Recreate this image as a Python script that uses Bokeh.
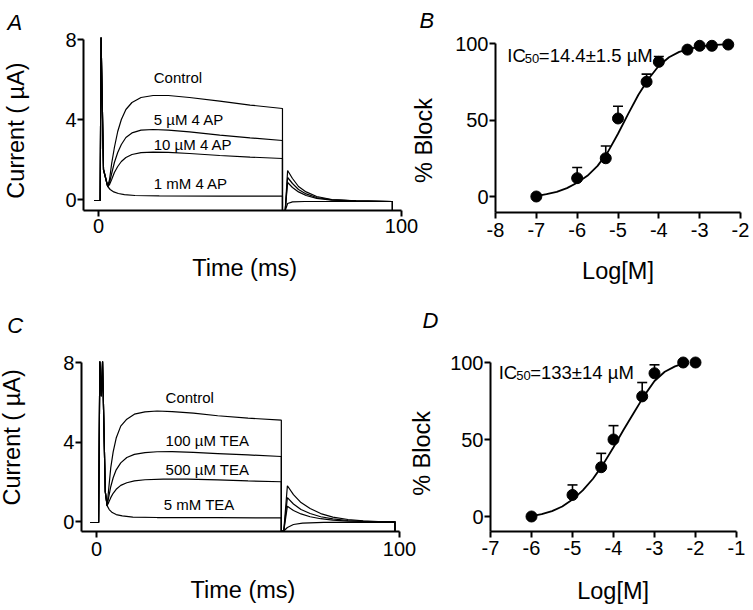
import math
from bokeh.plotting import figure
from bokeh.models import (Range1d, FixedTicker, Label, Whisker, TeeHead,
                          ColumnDataSource, LinearAxis)
from bokeh.embed import file_html
from bokeh.resources import INLINE

FONT = "Liberation Sans"

# ---------------- data: panel A (4-AP current traces) ----------------
a_labels = ["Control", "5 \u00b5M 4 AP", "10 \u00b5M 4 AP", "1 mM 4 AP"]
a_pre_t = [-1.5, 0.5, 0.8, 1.6, 3.0]
a_pre_i = [-0.05, -0.05, 8.1, 1.5, 0.65]
a_ctrl_t = [3.6, 4.3, 5.2, 6.3, 7.5, 9, 11, 14, 18, 23, 30, 40, 50, 60.7, 60.7, 61.6, 62.4, 64, 66, 68.5, 72, 77, 85, 97, 97]
a_ctrl_i = [1.0, 1.8, 2.6, 3.4, 4.0, 4.5, 4.85, 5.1, 5.2, 5.2, 5.1, 4.92, 4.72, 4.55, -0.55, -0.55, 1.45, 1.05, 0.65, 0.38, 0.15, 0.0, -0.07, -0.1, -0.55]
a_5um_t = [3.6, 4.3, 5.2, 6.3, 7.5, 9, 11, 14, 18, 23, 30, 40, 50, 60.7, 60.7, 61.6, 62.4, 64, 66, 68.5, 72, 77, 85, 97, 97]
a_5um_i = [0.85, 1.3, 1.85, 2.35, 2.75, 3.1, 3.33, 3.47, 3.5, 3.47, 3.38, 3.22, 3.08, 2.95, -0.55, -0.55, 1.1, 0.8, 0.5, 0.28, 0.1, -0.02, -0.07, -0.1, -0.55]
a_10um_t = [3.6, 4.3, 5.2, 6.3, 7.5, 9, 11, 14, 18, 23, 30, 40, 50, 60.7, 60.7, 61.6, 62.4, 64, 66, 68.5, 72, 77, 85, 97, 97]
a_10um_i = [0.75, 1.0, 1.35, 1.65, 1.9, 2.1, 2.25, 2.34, 2.37, 2.36, 2.3, 2.2, 2.12, 2.05, -0.55, -0.55, 0.85, 0.6, 0.38, 0.2, 0.06, -0.03, -0.07, -0.1, -0.55]
a_1mm_t = [3.8, 5, 6.5, 8.5, 12, 20, 40, 60.7, 60.7, 61.6, 62.4, 64, 68, 97, 97]
a_1mm_i = [0.5, 0.38, 0.3, 0.24, 0.2, 0.18, 0.17, 0.17, -0.55, -0.55, -0.2, -0.12, -0.1, -0.1, -0.55]
a_xticks = [0, 100]
a_yticks = [0, 4, 8]

# ---------------- data: panel B (4-AP dose response) ----------------
b_logc = [-7, -6, -5.3, -5, -4.3, -4, -3.3, -3, -2.7, -2.3]
b_block = [0, 12, 25, 51, 75, 88, 96, 98.5, 98.5, 99.3]
b_err = [0, 7, 8, 8, 5, 3.5, 0, 0, 0, 0]
b_fit_x = [-7, -6.75, -6.5, -6.25, -6, -5.75, -5.5, -5.25, -5, -4.75, -4.5, -4.25, -4, -3.75, -3.5, -3.25, -3, -2.75, -2.5, -2.3]
b_fit_y = [0.3, 1.5, 3, 5.5, 9, 13.5, 20, 29, 41, 54, 66.5, 77, 85.5, 91, 94.5, 96.5, 98, 98.8, 99.3, 99.5]
b_xticks = [-8, -7, -6, -5, -4, -3, -2]
b_yticks = [0, 50, 100]
b_ic50 = "=14.4\u00b11.5 \u00b5M"

# ---------------- data: panel C (TEA current traces) ----------------
c_labels = ["Control", "100 \u00b5M TEA", "500 \u00b5M TEA", "5 mM TEA"]
c_pre_t = [-2, 0.7, 1.1, 1.6, 2.0, 2.9, 3.5]
c_pre_i = [-0.05, -0.05, 8.05, 6.3, 8.05, 1.5, 0.8]
c_ctrl_t = [4.0, 4.7, 5.5, 6.5, 8, 10, 12.5, 16, 20, 25, 32, 40, 50, 61, 61, 61.8, 63, 65, 67.5, 70.5, 74, 78, 83, 88, 93, 98.5, 98.5]
c_ctrl_i = [1.6, 2.7, 3.5, 4.2, 4.8, 5.15, 5.4, 5.52, 5.56, 5.53, 5.45, 5.32, 5.2, 5.1, -0.48, -0.48, 1.8, 1.35, 0.95, 0.65, 0.4, 0.22, 0.1, 0.03, 0.0, 0.0, -0.48]
c_100um_t = [4.0, 4.7, 5.5, 6.5, 8, 10, 12.5, 16, 20, 25, 32, 40, 50, 61, 61, 61.8, 63, 65, 67.5, 70.5, 74, 78, 83, 88, 93, 98.5, 98.5]
c_100um_i = [1.2, 1.75, 2.2, 2.6, 2.95, 3.22, 3.38, 3.47, 3.51, 3.52, 3.48, 3.42, 3.35, 3.27, -0.48, -0.48, 1.2, 0.88, 0.6, 0.4, 0.24, 0.13, 0.05, 0.01, 0.0, 0.0, -0.48]
c_500um_t = [4.0, 4.7, 5.5, 6.5, 8, 10, 12.5, 16, 22, 30, 40, 50, 61, 61, 61.8, 63, 65, 67.5, 70.5, 74, 78, 83, 90, 98.5, 98.5]
c_500um_i = [0.95, 1.2, 1.42, 1.62, 1.82, 1.95, 2.04, 2.1, 2.13, 2.13, 2.09, 2.04, 2.0, -0.48, -0.48, 0.77, 0.55, 0.38, 0.24, 0.14, 0.07, 0.02, 0.0, 0.0, -0.48]
c_5mm_t = [4.2, 5.2, 6.5, 8.5, 12, 20, 40, 61, 61, 61.8, 63, 65, 68, 75, 98.5, 98.5]
c_5mm_i = [0.6, 0.45, 0.35, 0.28, 0.22, 0.2, 0.19, 0.18, -0.48, -0.48, -0.3, -0.15, -0.08, -0.04, -0.03, -0.48]
c_xticks = [0, 100]
c_yticks = [0, 4, 8]

# ---------------- data: panel D (TEA dose response) ----------------
d_logc = [-6, -5, -4.3, -4, -3.3, -3, -2.3, -2]
d_block = [0, 14, 32, 50, 78, 93, 100, 100]
d_err = [0, 6.5, 9, 9, 9, 5.5, 0, 0]
d_fit_x = [-6, -5.75, -5.5, -5.25, -5, -4.75, -4.5, -4.25, -4, -3.75, -3.5, -3.25, -3, -2.75, -2.5, -2.3]
d_fit_y = [0.3, 1.5, 3.5, 6.5, 11, 17, 24.5, 34, 45, 56.5, 67.5, 78.5, 88, 94, 97.5, 99.3]
d_xticks = [-7, -6, -5, -4, -3, -2, -1]
d_yticks = [0, 50, 100]
d_ic50 = "=133\u00b114 \u00b5M"

W, H = 752, 608


def canvas_range(v0, p0, v1, p1, lo_px, hi_px):
    """Data range covering canvas pixels lo_px..hi_px, given two reference pixels."""
    s = (p1 - p0) / (v1 - v0)
    a = v0 + (lo_px - p0) / s
    b = v0 + (hi_px - p0) / s
    return Range1d(min(a, b), max(a, b))


# page-pixel calibration of each panel: (value, pixel, value, pixel)
CAL = {
    "default": ((-5, 83, 100, 401), (-0.55, 210, 8, 39)),
    "b": ((-8, 495, -2, 740), (0, 196, 100, 43)),
    "c": ((0, 96, 100, 399), (0, 521, 8, 362)),
    "d": ((-7, 490, -1, 736), (0, 516, 100, 362)),
}
XR = {k: canvas_range(*v[0], 0, W) for k, v in CAL.items()}
YR = {k: canvas_range(*v[1], 0, H) for k, v in CAL.items()}

p = figure(width=W, height=H, x_range=XR["default"], y_range=YR["default"],
           x_axis_type=None, y_axis_type=None,
           output_backend="svg", toolbar_location=None, min_border=0)
p.extra_x_ranges = {k: XR[k] for k in ("b", "c", "d")}
p.extra_y_ranges = {k: YR[k] for k in ("b", "c", "d")}
p.outline_line_color = None
p.background_fill_color = "white"
p.border_fill_color = "white"


def style_axis(ax, ticks, standoff):
    ax.ticker = FixedTicker(ticks=ticks)
    ax.major_label_overrides = {t: str(t) for t in ticks}
    ax.axis_line_width = 2
    ax.axis_line_color = "black"
    ax.major_tick_line_width = 2
    ax.major_tick_line_color = "black"
    ax.major_tick_out = 6
    ax.major_tick_in = 0
    ax.minor_tick_line_color = None
    ax.major_label_text_font = FONT
    ax.major_label_text_font_size = "20px"
    ax.major_label_text_color = "black"
    ax.major_label_standoff = standoff


def axes(n, xbounds, ybounds, xticks, yticks, xstandoff):
    xa = LinearAxis(x_range_name=n, y_range_name=n, fixed_location=ybounds[0], bounds=xbounds)
    style_axis(xa, xticks, xstandoff)
    p.add_layout(xa, "below")
    ya = LinearAxis(x_range_name=n, y_range_name=n, fixed_location=xbounds[0], bounds=ybounds)
    style_axis(ya, yticks, 1)
    p.add_layout(ya, "left")


def label(n, x, y, text, size, xo=0, yo=0, angle=0.0, align="left", baseline="middle", style="normal"):
    p.add_layout(Label(x=x, y=y, x_range_name=n, y_range_name=n, text=text,
                       x_offset=xo, y_offset=yo, angle=angle,
                       text_align=align, text_baseline=baseline, text_font=FONT,
                       text_font_size=f"{size}px", text_font_style=style, text_color="black"))


def traces(n, pre_t, pre_i, sets):
    for t, i in sets:
        p.line(pre_t + t, pre_i + i, x_range_name=n, y_range_name=n,
               line_color="black", line_width=1.2)


def dose(n, xs, ys, errs, fx, fy):
    p.line(fx, fy, x_range_name=n, y_range_name=n, line_color="black", line_width=1.8)
    src = ColumnDataSource(dict(x=xs, y=ys, hi=[a + e for a, e in zip(ys, errs)]))
    p.add_layout(Whisker(source=src, base="x", lower="y", upper="hi", dimension="height",
                         x_range_name=n, y_range_name=n,
                         line_color="black", line_width=1.6,
                         upper_head=TeeHead(size=10, line_width=1.6, line_color="black"),
                         lower_head=None))
    p.scatter("x", "y", source=src, x_range_name=n, y_range_name=n, size=11,
              marker="circle", fill_color="black", line_color="black")


def ic50(n, x, y, rest):
    label(n, x, y, "IC", 18.5, baseline="alphabetic")
    label(n, x, y, "50", 13, xo=17.5, yo=-3, baseline="alphabetic")
    label(n, x, y, rest, 18.5, xo=31.5, baseline="alphabetic")


HALF = math.pi / 2
TITLE = 23.5

# Panel A
axes("default", (-5, 100), (-0.55, 8), a_xticks, a_yticks, 2)
traces("default", a_pre_t, a_pre_i, [(a_ctrl_t, a_ctrl_i), (a_5um_t, a_5um_i), (a_10um_t, a_10um_i), (a_1mm_t, a_1mm_i)])
for txt, yy in zip(a_labels, [6.1, 4.0, 2.75, 0.8]):
    label("default", 18.2, yy, txt, 15)
label("default", -5, 8, "A", 22, xo=-76, yo=17, baseline="alphabetic", style="italic")
label("default", -5, 3.45, "Current ( \u00b5A)", TITLE, xo=-68, angle=HALF, align="center")
label("default", 48.2, -0.55, "Time (ms)", TITLE, yo=-57.5, align="center")

# Panel B
axes("b", (-8, -2), (-10.5, 100), b_xticks, b_yticks, 4)
dose("b", b_logc, b_block, b_err, b_fit_x, b_fit_y)
ic50("b", -7.71, 92.2, b_ic50)
label("b", -8, 100, "B", 22, xo=-76, yo=23, baseline="alphabetic", style="italic")
label("b", -8, 36.6, "% Block", TITLE, xo=-71.5, angle=HALF, align="center")
label("b", -5, -10.5, "Log[M]", TITLE, yo=-58.4, align="center")

# Panel C
axes("c", (-5, 100), (-0.48, 8), c_xticks, c_yticks, 5)
traces("c", c_pre_t, c_pre_i, [(c_ctrl_t, c_ctrl_i), (c_100um_t, c_100um_i), (c_500um_t, c_500um_i), (c_5mm_t, c_5mm_i)])
for txt, xx, yy in zip(c_labels, [22.8, 22.8, 22.8, 22.2], [6.25, 4.07, 2.6, 0.85]):
    label("c", xx, yy, txt, 15)
label("c", -5, 8, "C", 22, xo=-74, yo=37, baseline="alphabetic", style="italic")
label("c", -5, 4.23, "Current ( \u00b5A)", TITLE, xo=-69, angle=HALF, align="center")
label("c", 48.35, -0.48, "Time (ms)", TITLE, yo=-58.5, align="center")

# Panel D
axes("d", (-7, -1), (-9.7, 100), d_xticks, d_yticks, 4)
dose("d", d_logc, d_block, d_err, d_fit_x, d_fit_y)
ic50("d", -6.8, 93.5, d_ic50)
label("d", -7, 100, "D", 22, xo=-68, yo=42, baseline="alphabetic", style="italic")
label("d", -7, 41, "% Block", TITLE, xo=-69, angle=HALF, align="center")
label("d", -4.01, -9.7, "Log[M]", TITLE, yo=-59.6, align="center")

open("out.html", "w").write(file_html(p, INLINE, title="Figure"))
